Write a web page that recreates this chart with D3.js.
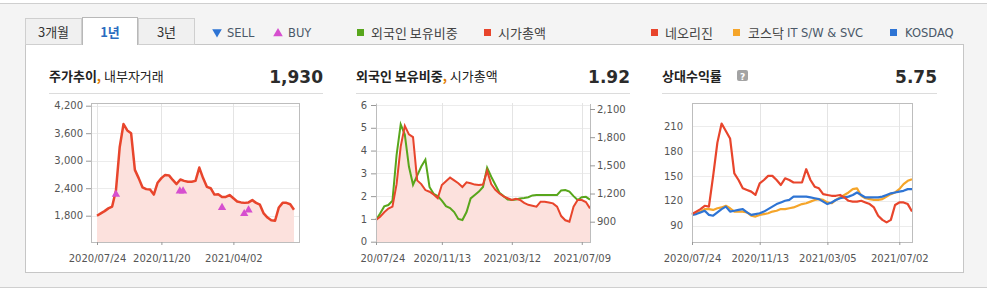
<!DOCTYPE html>
<html>
<head>
<meta charset="utf-8">
<script src="https://cdn.jsdelivr.net/npm/d3@7"></script>
<style>
body{margin:0;background:#fff;}
svg{display:block;font-family:"Noto Sans CJK KR",sans-serif;}
.tick text{font-family:"DejaVu Sans",sans-serif;font-size:10px;fill:#555;}
.tick line{stroke:#999;}
.domain{display:none;}
</style>
</head>
<body>
<svg id="chart" width="987" height="291"></svg>
<script>
// ---- data ----
var periodTabs = ["3개월","1년","3년"];
var startDay = new Date(2020,6,24);
var weeks = d3.range(53).map(function(i){return d3.timeDay.offset(startDay,i*7);});
var parseDay = d3.timeParse("%Y-%m-%d");

// 주가추이 (weekly close)
var priceVals = [1800,1850,1900,1960,2000,2350,3300,3800,3660,3600,2800,2620,2420,2380,2370,2260,
  2520,2620,2690,2680,2580,2490,2590,2560,2540,2540,2560,2850,2620,2430,2400,2260,2270,2210,2210,
  2250,2180,2110,2090,2080,2090,2140,2080,2040,1850,1760,1700,1690,1980,2080,2080,2050,1930];
var buyDates = ["2020-08-28","2020-12-24","2020-12-30","2021-03-12","2021-04-22","2021-04-30"];
var buyVals = [2265,2338,2338,1975,1844,1924];
var priceTicks = [1800,2400,3000,3600,4200];
var priceDateTicks = ["2020-07-24","2020-11-20","2021-04-02"];

// 외국인 보유비중 (%) / 시가총액 (억)
var foreignVals = [0.95,1.24,1.55,1.61,1.8,3.8,5.15,4.7,3.3,2.5,2.9,3.3,3.6,2.4,2.1,2.0,1.8,1.56,1.48,
  1.3,1.0,0.95,1.3,1.9,2.05,2.2,2.4,3.25,2.85,2.5,2.15,2.0,1.85,1.83,1.85,1.9,1.92,1.95,2.03,2.05,
  2.05,2.05,2.05,2.05,2.05,2.25,2.27,2.2,2.0,1.83,1.95,1.97,1.85];
var capVals = [918,953,1000,1040,1060,1300,1700,1920,1830,1800,1340,1300,1237,1219,1190,1150,1290,
  1330,1370,1340,1310,1270,1320,1310,1295,1290,1295,1440,1300,1240,1200,1170,1150,1131,1145,1131,
  1100,1080,1070,1060,1113,1113,1105,1095,1060,960,915,900,1060,1131,1131,1110,1042];
var foreignTicks = [0,1,2,3,4,5,6];
var capTicks = [900,1200,1500,1800,2100];
var foreignDateTicks = ["2020-07-24","2020-11-13","2021-03-12","2021-07-09"];

// 상대수익률
var neoVals = [104,107,110,114,113,150,190,213,204,195,153,145,135,133,131,127,141,145,150,150,145,
  139,147,145,142,142,142,158,145,137,135,128,127,126,126,127,124,120,119,119,120,118,116,112,102,
  97,94,97,115,118,118,116,107];
var itVals = [103,105,107,110,110,109,111,112,114,111,107,107,107,106,102,101,103,104,105,107,108,
  110,110,111,112,114,116,117,119,121,122,121,118,117,121,124,127,130,134,135,126,123,122,121,121,
  122,125,128,130,134,140,144,146];
var kosdaqVals = [103,104,106,108,103,102,106,110,113,107,108,109,110,106,103,104,105,107,110,113,
  116,118,120,121,125,125,125,125,124,123,122,119,116,118,121,123,124,125,127,130,127,124,124,124,
  124,125,127,129,130,131,132,134,134];
var relTicks = [90,120,150,180,210];
var relDateTicks = ["2020-07-24","2020-11-13","2021-03-05","2021-07-02"];

var headValues = ["1,930","1.92","5.75"];

// ---- colours ----
var RED = "#e8452c", GREEN = "#58a61c", ORANGE = "#f5a52a", BLUE = "#2e74d4", FILL = "#fce1dd";

var svg = d3.select("#chart");
var fmtDate = d3.timeFormat("%Y/%m/%d");

// page background and box
svg.append("rect").attr("x",0).attr("y",3).attr("width",987).attr("height",284).attr("fill","#f4f4f4");
svg.append("line").attr("x1",0).attr("x2",987).attr("y1",3.5).attr("y2",3.5).attr("stroke","#cfcfcf");
svg.append("line").attr("x1",0).attr("x2",987).attr("y1",287.5).attr("y2",287.5).attr("stroke","#cfcfcf");
svg.append("rect").attr("x",25.5).attr("y",44.5).attr("width",938).attr("height",228)
  .attr("fill","#fff").attr("stroke","#c6c6c6");

// tabs
var tabX = [25.5,82.5,138.5], tabW = [56,55,56];
periodTabs.forEach(function(t,i){
  var on = i===1;
  svg.append("rect").attr("x",tabX[i]).attr("y",on?17.5:18.5).attr("width",tabW[i]).attr("height",on?27:26)
    .attr("fill",on?"#fff":"#f0f0f0").attr("stroke",on?"#b8b8b8":"#cfcfcf");
  if(on){
    svg.append("line").attr("x1",tabX[i]+0.5).attr("x2",tabX[i]+tabW[i]-0.5).attr("y1",44.5).attr("y2",44.5)
      .attr("stroke","#fff").attr("stroke-width",2);
  }
  svg.append("text").attr("x",tabX[i]+tabW[i]/2).attr("y",37).attr("text-anchor","middle")
    .attr("font-size",13).attr("font-weight",on?"bold":"normal").attr("fill",on?"#2a6cc0":"#333").text(t);
});

// legends
function legendSquare(x,color,label,tx){
  svg.append("rect").attr("x",x).attr("y",29).attr("width",7).attr("height",7).attr("fill",color);
  svg.append("text").attr("x",tx).attr("y",37.5).attr("font-size",13).attr("fill","#444").text(label);
}
svg.append("path").attr("d",d3.symbol(d3.symbolTriangle).size(40)()).attr("fill","#2e74d4")
  .attr("transform","translate(217,32) rotate(180)");
svg.append("text").attr("x",227).attr("y",37).attr("font-family","DejaVu Sans").attr("font-size",11.5)
  .attr("fill","#4a5868").text("SELL");
svg.append("path").attr("d",d3.symbol(d3.symbolTriangle).size(40)()).attr("fill","#d64fcf")
  .attr("transform","translate(278,33.5)");
svg.append("text").attr("x",288).attr("y",37).attr("font-family","DejaVu Sans").attr("font-size",11.5)
  .attr("fill","#4a5868").text("BUY");
legendSquare(357,GREEN,"외국인 보유비중",371);
legendSquare(484,RED,"시가총액",498);
legendSquare(651,RED,"네오리진",665);
legendSquare(733,ORANGE,"코스닥",748);
svg.append("text").attr("x",787).attr("y",37).attr("font-family","DejaVu Sans").attr("font-size",11.5)
  .attr("fill","#4a5868").text("IT S/W & SVC");
legendSquare(890,BLUE,"",905);
svg.append("text").attr("x",905).attr("y",37).attr("font-family","DejaVu Sans").attr("font-size",11.5)
  .attr("fill","#4a5868").text("KOSDAQ");

// panel headers
function header(x0,x1,bold,normal,value){
  var t = svg.append("text").attr("x",x0).attr("y",81).attr("font-size",13).attr("fill","#222");
  t.append("tspan").attr("font-weight","bold").text(bold);
  if(normal){
    t.append("tspan").attr("font-weight","bold").attr("fill","#e07b00").text(",");
    t.append("tspan").text(" "+normal);
  }
  svg.append("text").attr("x",x1).attr("y",83).attr("text-anchor","end").attr("font-family","DejaVu Sans")
    .attr("font-weight","bold").attr("font-size",17).attr("fill","#2b2b2b").text(value);
  svg.append("line").attr("x1",x0).attr("x2",x1).attr("y1",93.5).attr("y2",93.5).attr("stroke","#dcdcdc");
}
header(49,323,"주가추이","내부자거래",headValues[0]);
header(356,630,"외국인 보유비중","시가총액",headValues[1]);
header(662,937,"상대수익률",null,headValues[2]);
svg.append("rect").attr("x",737).attr("y",70).attr("width",11).attr("height",11).attr("rx",2).attr("fill","#a3a3a3");
svg.append("text").attr("x",742.5).attr("y",79.5).attr("text-anchor","middle").attr("font-family","DejaVu Sans")
  .attr("font-weight","bold").attr("font-size",9).attr("fill","#fff").text("?");

function clipGroup(id,x0,x1){
  svg.append("clipPath").attr("id",id).append("rect").attr("x",x0).attr("y",95).attr("width",x1-x0).attr("height",180);
  return svg.append("g").attr("clip-path","url(#"+id+")");
}
function pts(vals){return weeks.map(function(d,i){return {date:d,v:vals[i]};});}
function hGrid(g,y,ticks,x0,x1){
  g.selectAll(null).data(ticks).enter().append("line").attr("x1",x0).attr("x2",x1)
    .attr("y1",function(d){return Math.round(y(d))+0.5;}).attr("y2",function(d){return Math.round(y(d))+0.5;})
    .attr("stroke","#ececec");
}
function vGrid(g,x,dates,y0,y1){
  g.selectAll(null).data(dates).enter().append("line")
    .attr("x1",function(d){return Math.round(x(d))+0.5;}).attr("x2",function(d){return Math.round(x(d))+0.5;})
    .attr("y1",y0).attr("y2",y1).attr("stroke","#e4e4e4");
}
function xAxis(g,x,dates){
  g.append("g").attr("transform","translate(0,242)")
    .call(d3.axisBottom(x).tickValues(dates).tickFormat(fmtDate).tickSize(3).tickPadding(10));
}

// ---- panel 1: 주가추이 ----
var g1 = clipGroup("c1",49,330);
var x1 = d3.scaleTime().domain([weeks[0],weeks[52]]).range([97,294]);
var y1 = d3.scaleLinear().domain([1800,4200]).range([215.7,105.7]);
var d1 = priceDateTicks.map(parseDay);
hGrid(g1,y1,priceTicks,91,299);
vGrid(g1,x1,d1,103,242);
g1.append("path").datum(pts(priceVals)).attr("fill",FILL)
  .attr("d",d3.area().x(function(d){return x1(d.date);}).y0(242).y1(function(d){return y1(d.v);}));
g1.append("rect").attr("x",91.5).attr("y",103.5).attr("width",208).attr("height",139).attr("fill","none").attr("stroke","#bdbdbd");
g1.append("path").datum(pts(priceVals)).attr("fill","none").attr("stroke",RED).attr("stroke-width",2.5)
  .attr("stroke-linejoin","round")
  .attr("d",d3.line().x(function(d){return x1(d.date);}).y(function(d){return y1(d.v);}));
g1.selectAll(".buy").data(buyDates).enter().append("path").attr("class","buy")
  .attr("d",d3.symbol(d3.symbolTriangle).size(30)()).attr("fill","#d64fcf")
  .attr("transform",function(d,i){return "translate("+x1(parseDay(d))+","+y1(buyVals[i])+")";});
svg.append("g").attr("transform","translate(91,0)")
  .call(d3.axisLeft(y1).tickValues(priceTicks).tickFormat(d3.format(",")).tickSize(5).tickPadding(3));
xAxis(g1,x1,d1);

// ---- panel 2: 외국인 보유비중 / 시가총액 ----
var g2 = clipGroup("c2",360,640);
var x2 = d3.scaleTime().domain([weeks[0],weeks[52]]).range([376,590]);
var y2 = d3.scaleLinear().domain([0,6]).range([241.7,105]);
var y2r = d3.scaleLinear().domain([900,2100]).range([221.7,109]);
var d2 = foreignDateTicks.map(parseDay);
hGrid(g2,y2,foreignTicks.slice(1),376,590);
vGrid(g2,x2,d2,103,242);
g2.append("path").datum(pts(capVals)).attr("fill",FILL)
  .attr("d",d3.area().x(function(d){return x2(d.date);}).y0(242).y1(function(d){return y2r(d.v);}));
g2.append("path").datum(pts(foreignVals)).attr("fill","none").attr("stroke",GREEN).attr("stroke-width",2)
  .attr("d",d3.line().x(function(d){return x2(d.date);}).y(function(d){return y2(d.v);}));
g2.append("path").datum(pts(capVals)).attr("fill","none").attr("stroke",RED).attr("stroke-width",2)
  .attr("d",d3.line().x(function(d){return x2(d.date);}).y(function(d){return y2r(d.v);}));
[376.5,590.5].forEach(function(x){
  g2.append("line").attr("x1",x).attr("x2",x).attr("y1",104).attr("y2",242).attr("stroke","#bdbdbd");
});
g2.append("line").attr("x1",376).attr("x2",591).attr("y1",242.5).attr("y2",242.5).attr("stroke","#bdbdbd");
svg.append("g").attr("transform","translate(376,0)")
  .call(d3.axisLeft(y2).tickValues(foreignTicks).tickFormat(d3.format("d")).tickSize(5).tickPadding(4));
svg.append("g").attr("transform","translate(590,0)")
  .call(d3.axisRight(y2r).tickValues(capTicks).tickFormat(d3.format(",")).tickSize(5).tickPadding(2));
xAxis(g2,x2,d2);

// ---- panel 3: 상대수익률 ----
var g3 = clipGroup("c3",662,960);
var x3 = d3.scaleTime().domain([weeks[0],weeks[52]]).range([692,912]);
var y3 = d3.scaleLinear().domain([90,210]).range([225.7,126]);
var d3t = relDateTicks.map(parseDay);
hGrid(g3,y3,relTicks,692,912);
vGrid(g3,x3,d3t,103,242);
var line3 = d3.line().x(function(d){return x3(d.date);}).y(function(d){return y3(d.v);});
[[itVals,ORANGE],[kosdaqVals,BLUE],[neoVals,RED]].forEach(function(s){
  g3.append("path").datum(pts(s[0])).attr("fill","none").attr("stroke",s[1]).attr("stroke-width",2.2)
    .attr("stroke-linejoin","round").attr("d",line3);
});
g3.append("rect").attr("x",692.5).attr("y",103.5).attr("width",220).attr("height",139).attr("fill","none").attr("stroke","#bdbdbd");
svg.append("g").attr("transform","translate(692,0)")
  .call(d3.axisLeft(y3).tickValues(relTicks).tickSize(0).tickPadding(9));
xAxis(g3,x3,d3t);
</script>
</body>
</html>
